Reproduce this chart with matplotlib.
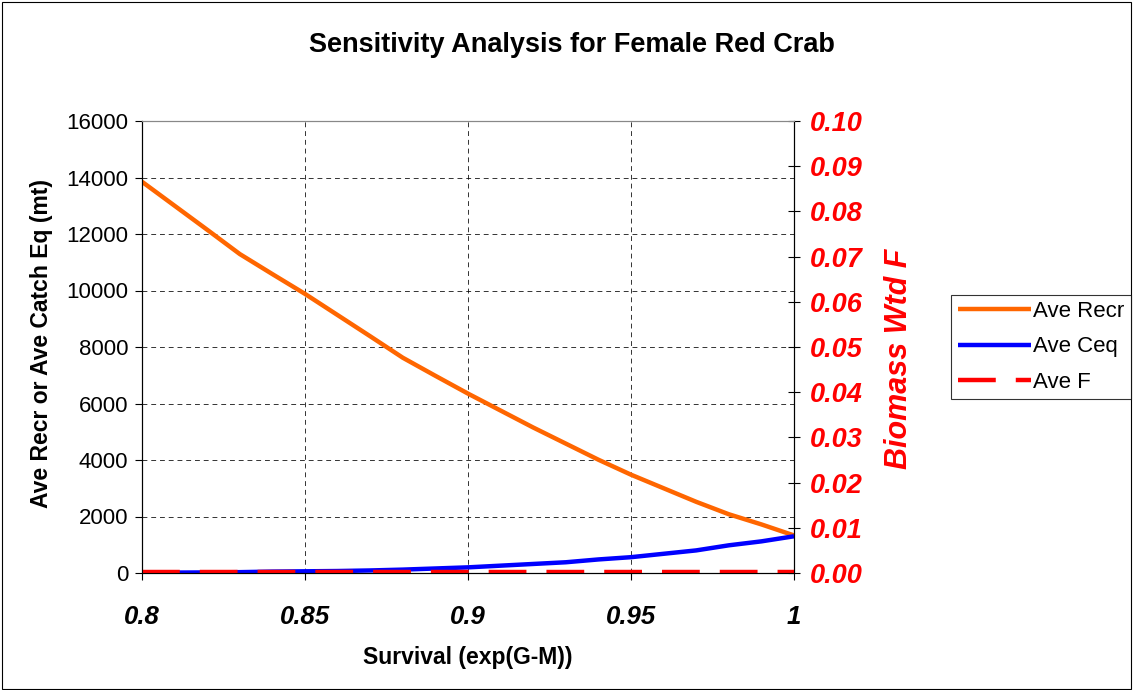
import matplotlib
matplotlib.use("Agg")
import matplotlib.pyplot as plt
from matplotlib.patches import Rectangle

plt.rcParams['font.family'] = ['Liberation Sans', 'DejaVu Sans']

# data
survival = [0.80, 0.81, 0.82, 0.83, 0.84, 0.85, 0.86, 0.87, 0.88, 0.89, 0.90,
            0.91, 0.92, 0.93, 0.94, 0.95, 0.96, 0.97, 0.98, 0.99, 1.00]
ave_recr = [13850, 13000, 12150, 11290, 10580, 9880, 9130, 8380, 7620, 6980, 6350,
            5750, 5150, 4580, 4010, 3480, 3000, 2520, 2080, 1720, 1330]
ave_ceq = [10, 15, 20, 30, 50, 60, 70, 90, 120, 160, 200,
           260, 320, 380, 480, 560, 680, 800, 980, 1120, 1300]
ave_f = [0.0003] * 21

x_ticks = [0.8, 0.85, 0.9, 0.95, 1.0]
x_tick_labels = ['0.8', '0.85', '0.9', '0.95', '1']
y_ticks = list(range(0, 16001, 2000))
f_ticks = [i / 100 for i in range(11)]

fig = plt.figure(figsize=(11.34, 6.9), dpi=100)
fig.patches.append(Rectangle((0.002, 0.002), 0.995, 0.995, transform=fig.transFigure,
                             fill=False, edgecolor='black', linewidth=0.8))

ax = fig.add_axes([142 / 1134, 1 - 573 / 690, (794 - 142) / 1134, (573 - 121) / 690])
ax2 = ax.twinx()

l1, = ax.plot(survival, ave_recr, color='#FF6600', linewidth=3.2, solid_capstyle='butt')
l2, = ax.plot(survival, ave_ceq, color='#0000FF', linewidth=3.2, solid_capstyle='butt')
l3, = ax2.plot(survival, ave_f, color='#FF0000', linewidth=3.2, dashes=(8.5, 4.5))

ax.set_xlim(0.8, 1.0)
ax.set_ylim(0, 16000)
ax2.set_ylim(0, 0.10)

ax.set_xticks(x_ticks)
ax.set_xticklabels(x_tick_labels, fontsize=18.5, fontweight='bold', fontstyle='italic')
ax.set_yticks(y_ticks)
ax.set_yticklabels([str(v) for v in y_ticks], fontsize=16)
ax.tick_params(axis='x', direction='out', length=5, pad=18)
ax.tick_params(axis='y', direction='out', length=5, pad=5)

ax2.set_yticks(f_ticks)
ax2.set_yticklabels(['%.2f' % v for v in f_ticks], fontsize=19.5, fontweight='bold',
                    fontstyle='italic', color='#FF0000')
ax2.tick_params(axis='y', direction='inout', length=9, pad=7)

ax.grid(True, color='black', linestyle=(0, (5, 4)), linewidth=0.7, alpha=0.8)
ax.spines['top'].set_color('#888888')
ax2.spines['top'].set_color('#888888')

ax.set_xlabel('Survival (exp(G-M))', fontsize=16.5, fontweight='bold')
ax.xaxis.set_label_coords(0.5, -(646 - 573) / 452)
ax.set_ylabel('Ave Recr or Ave Catch Eq (mt)', fontsize=16.5, fontweight='bold')
ax.yaxis.set_label_coords(-(142 - 53) / 652, (573 - 344) / 452)
ax2.set_ylabel('Biomass Wtd F', fontsize=22, fontweight='bold', fontstyle='italic',
               color='#FF0000')
ax2.yaxis.set_label_coords((884 - 142) / 652, (573 - 359) / 452)

fig.text(572 / 1134, 1 - 45 / 690, 'Sensitivity Analysis for Female Red Crab',
         ha='center', va='center', fontsize=19.5, fontweight='bold')

leg = fig.legend([l1, l2, l3], ['Ave Recr', 'Ave Ceq', 'Ave F'],
                 loc='center left', bbox_to_anchor=(951 / 1134, 1 - 347 / 690),
                 fontsize=16, frameon=True, fancybox=False, edgecolor='black',
                 handlelength=3.3, handletextpad=0.1, borderpad=0.3, labelspacing=0.64,
                 borderaxespad=0)
leg.get_frame().set_linewidth(0.8)

fig.savefig('out.png', dpi=100)
